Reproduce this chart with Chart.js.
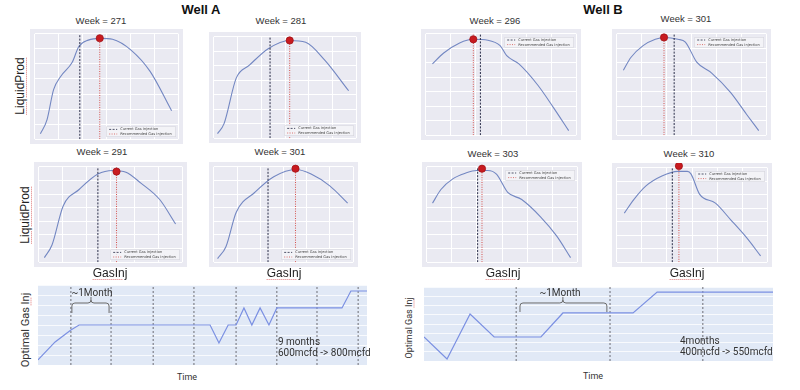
<!DOCTYPE html>
<html lang="en">
<head>
<meta charset="UTF-8">
<title>Gas injection optimisation</title>
<style>
  body { margin: 0; background: #fff; }
  #page { position: relative; width: 800px; height: 390px; overflow: hidden; font-family: "Liberation Sans", Arial, sans-serif; color: #222; }
  .plot { position: absolute; }
  .top { background: #eaeaf2; }
  .bottom { background: #e1e9f6; }
  .txt { position: absolute; white-space: nowrap; transform: translate(-50%, -50%); line-height: 1; }
  .left { transform: translate(0, -50%); }
  .rot { transform: translate(-50%, -50%) rotate(-90deg); }
  .squig { text-decoration: underline dotted #e07a7a; text-decoration-thickness: 1px; text-underline-offset: 2px; }
  .g { font-family: Roboto, "Open Sans", sans-serif; color: #333; }
</style>
</head>
<body>
<div id="page"></div>

<script src="https://cdn.jsdelivr.net/npm/chart.js"></script>
<script>
// week of each optimisation snapshot
const weeksA = [271, 281, 291, 301];
const weeksB = [296, 301, 303, 310];

// liquid production vs gas injection (normalised units)
const a1Gas  = [3.9, 8.5, 13.1, 18.3, 26.1, 30.7, 37.3, 45.8, 54.2, 67.3, 80.4, 95.4];
const a1Prod = [5.2, 18.3, 47, 60, 73, 88, 94, 95.7, 94.8, 84.3, 64.3, 27];
const a2Gas  = [2.6, 7.2, 15.8, 25, 38.2, 53.3, 64.5, 77.6, 94.7];
const a2Prod = [4.5, 14.4, 59.5, 72, 88.3, 96.4, 94.6, 77.5, 46.8];
const a3Gas  = [3.9, 9.2, 17, 28.1, 41.2, 51.6, 60.8, 71.2, 84.3, 95.4];
const a3Prod = [4.8, 18, 59, 76.2, 92.4, 96.2, 94.3, 82.9, 65.7, 40];
const a4Gas  = [2.7, 8.7, 16.1, 29.5, 43, 59, 69.8, 83.2, 96];
const a4Prod = [3.8, 16.2, 52.4, 73.3, 89.5, 97.1, 92.4, 80, 61.9];
const b1Gas  = [4.4, 11.9, 22.5, 31.3, 41.3, 49.4, 53.8, 61.9, 74.4, 85, 95];
const b1Prod = [70.3, 81.1, 91, 94.6, 93.7, 88.3, 78.4, 70.3, 49.5, 27, 4.5];
const b2Gas  = [4.4, 9.4, 17.6, 25.8, 32.1, 40.9, 45.9, 53.5, 63.5, 76.1, 86.8, 95];
const b2Prod = [64, 76.6, 88.3, 94.6, 96.4, 94.6, 91.9, 72.1, 61.3, 42.3, 20.7, 4.5];
const b3Gas  = [3.8, 9.4, 17.5, 25.6, 33.1, 40.6, 46.3, 53.8, 63.1, 75.6, 86.3, 95.6];
const b3Prod = [61.9, 76.2, 87.6, 93.3, 96.2, 96.2, 92.4, 73.3, 65.7, 47.6, 27.6, 4.8];
const b4Gas  = [5, 11.3, 19.4, 30, 40.6, 46.9, 49.4, 55, 65.6, 75.6, 86.3, 95.6];
const b4Prod = [52, 66.3, 80.8, 91.3, 96.2, 96.2, 93.3, 72.1, 62.5, 45.2, 26, 6.7];

// order: A1 A2 A3 A4 B1 B2 B3 B4
const currentInj     = [31.4, 39.5, 41.2, 38.9, 36.3, 38.4, 33.8, 36.9];
const recommendedInj = [45.3, 53.3, 54.2, 58.6, 31.6, 31.6, 36.7, 41.3];
const bestProd       = [95.8, 96.4, 95, 98, 94.6, 96.4, 98, 102];

// optimal gas injection through time
const timeA = [0, 5.2, 10, 12.5, 52.3, 55, 57.8, 60.2, 62.6, 65, 67.5, 70.2, 72.6, 92.4, 95.1, 100];
const injA  = [6.3, 28.8, 43.8, 50, 50, 27.5, 50, 50, 71.3, 50, 71.3, 50, 71.3, 71.3, 92.5, 92.5];
const monthsA = [10, 22.2, 35, 47.4, 60.2, 72.6, 84.8, 97.3];
const timeB = [0, 6.6, 13.2, 20.1, 33.5, 39.8, 59.9, 66.8, 100];
const injB  = [32.4, 2.7, 63.5, 32.4, 32.4, 64.9, 64.9, 93.2, 93.2];
const monthsB = [26.4, 53.3, 79.9];

const page = document.getElementById('page');
const zip = (xs, ys) => xs.map((x, i) => ({x: x, y: ys[i]}));
const vline = x => [{x: x, y: 0}, {x: x, y: 100}];

function box(cls, l, t, w, h) {
  const d = document.createElement('div');
  d.className = 'plot ' + cls;
  d.style.cssText = `left:${l}px;top:${t}px;width:${w}px;height:${h}px`;
  const c = document.createElement('canvas');
  d.appendChild(c);
  page.appendChild(d);
  return c;
}
function label(html, x, y, cls, css) {
  const d = document.createElement('div');
  d.className = 'txt ' + (cls || '');
  d.innerHTML = html;
  d.style.cssText = `left:${x}px;top:${y}px;` + (css || '');
  page.appendChild(d);
}

// tiny matplotlib-style legend inside the plot
const miniLegend = {
  id: 'miniLegend',
  afterDatasetsDraw(chart, args, o) {
    if (!o.where) return;
    const {ctx, chartArea: a} = chart;
    const items = chart.data.datasets.filter(d => d.inLegend).reverse();
    const w = 70, h = 11;
    const x = a.right - w - 2;
    const y = o.where === 'top' ? a.top + 3 : a.bottom - h - 2;
    ctx.save();
    ctx.fillStyle = 'rgba(244,244,248,0.85)';
    ctx.strokeStyle = '#d4d4dc';
    ctx.lineWidth = 0.6;
    ctx.fillRect(x, y, w, h);
    ctx.strokeRect(x + 0.5, y + 0.5, w - 1, h - 1);
    ctx.font = '3.6px "DejaVu Sans", sans-serif';
    ctx.textBaseline = 'middle';
    items.forEach((d, i) => {
      const cy = y + 3.2 + i * 4.6;
      ctx.strokeStyle = d.borderColor;
      ctx.lineWidth = 0.8;
      ctx.setLineDash(d.borderDash);
      ctx.beginPath();
      ctx.moveTo(x + 3, cy);
      ctx.lineTo(x + 11, cy);
      ctx.stroke();
      ctx.setLineDash([]);
      ctx.fillStyle = '#444';
      ctx.fillText(d.label, x + 14, cy);
    });
    ctx.restore();
  }
};

// curly brace over the one-month gap
const brace = {
  id: 'brace',
  afterDatasetsDraw(chart, args, o) {
    if (o.from === undefined) return;
    const {ctx, scales: {x, y}} = chart;
    const x0 = x.getPixelForValue(o.from), x1 = x.getPixelForValue(o.to), xm = x.getPixelForValue(o.mid);
    const yb = y.getPixelForValue(o.bar), ye = y.getPixelForValue(o.tip), yp = y.getPixelForValue(o.peak);
    const r = 3;
    ctx.save();
    ctx.strokeStyle = '#6a6a6a';
    ctx.lineWidth = 1;
    ctx.beginPath();
    ctx.moveTo(x0, ye);
    ctx.lineTo(x0, yb + r);
    ctx.quadraticCurveTo(x0, yb, x0 + r, yb);
    ctx.lineTo(xm - r, yb);
    ctx.quadraticCurveTo(xm, yb, xm, yb - r);
    ctx.lineTo(xm, yp);
    ctx.moveTo(xm, yb - r);
    ctx.quadraticCurveTo(xm, yb, xm + r, yb);
    ctx.lineTo(x1 - r, yb);
    ctx.quadraticCurveTo(x1, yb, x1, yb + r);
    ctx.lineTo(x1, ye);
    ctx.stroke();
    ctx.restore();
  }
};

function hiddenAxis(step, gridOpts) {
  return {
    type: 'linear', min: 0, max: 100,
    ticks: {display: false, stepSize: step},
    grid: Object.assign({color: '#ffffff', lineWidth: 1, drawTicks: false}, gridOpts || {}),
    border: {display: false}
  };
}

function curveChart(canvas, gas, prod, i, where) {
  return new Chart(canvas, {
    type: 'line',
    data: {
      datasets: [
        { label: 'best', data: [{x: recommendedInj[i], y: bestProd[i]}], showLine: false,
          pointRadius: 3.6, pointBackgroundColor: '#c81a1f', pointBorderColor: '#a11217', pointBorderWidth: 0.8, clip: false },
        { label: 'Recommended Gas Injection', inLegend: true, data: vline(recommendedInj[i]),
          borderColor: '#d4504c', borderDash: [1, 1.4], borderWidth: 1, pointRadius: 0 },
        { label: 'Current Gas Injection', inLegend: true, data: vline(currentInj[i]),
          borderColor: '#2a2d48', borderDash: [2, 1.4], borderWidth: 1, pointRadius: 0 },
        { label: 'LiquidProd', data: zip(gas, prod), borderColor: '#7387c2', borderWidth: 1.1,
          pointRadius: 0, cubicInterpolationMode: 'monotone' }
      ]
    },
    options: {
      responsive: true, maintainAspectRatio: false, animation: false,
      layout: {padding: 0},
      events: [],
      scales: { x: hiddenAxis(100 / 6), y: hiddenAxis(100 / 7) },
      plugins: { legend: {display: false}, tooltip: {enabled: false}, miniLegend: {where: where} }
    },
    plugins: [miniLegend]
  });
}

function timeChart(canvas, t, inj, months, br) {
  const sets = [{ label: 'Optimal Gas Inj', data: zip(t, inj), borderColor: '#7b90e2', borderWidth: 1.2, pointRadius: 0, tension: 0 }];
  months.forEach(m => sets.push({ label: 'month', data: vline(m), borderColor: '#5f5f66', borderDash: [2, 2], borderWidth: 0.9, pointRadius: 0 }));
  return new Chart(canvas, {
    type: 'line',
    data: { datasets: sets },
    options: {
      responsive: true, maintainAspectRatio: false, animation: false,
      layout: {padding: 0},
      events: [],
      scales: {
        x: hiddenAxis(10, {display: false}),
        y: hiddenAxis(12.5, {color: 'rgba(255,255,255,0.75)'})
      },
      plugins: { legend: {display: false}, tooltip: {enabled: false}, brace: br }
    },
    plugins: [brace]
  });
}

// plots
curveChart(box('top', 30, 29, 153, 115), a1Gas, a1Prod, 0, 'bottom');
curveChart(box('top', 209, 32, 152, 111), a2Gas, a2Prod, 1, 'bottom');
curveChart(box('top', 34, 162, 153, 105), a3Gas, a3Prod, 2, 'bottom');
curveChart(box('top', 209, 162, 149, 105), a4Gas, a4Prod, 3, 'bottom');
curveChart(box('top', 421, 29, 160, 111), b1Gas, b1Prod, 4, 'top');
curveChart(box('top', 612, 29, 159, 111), b2Gas, b2Prod, 5, 'top');
curveChart(box('top', 422, 162, 160, 105), b3Gas, b3Prod, 6, 'top');
curveChart(box('top', 612, 163, 160, 104), b4Gas, b4Prod, 7, 'top');

timeChart(box('bottom', 38, 285, 329, 80), timeA, injA, monthsA,
  {from: 10.3, to: 21.6, mid: 16.1, bar: 77.5, tip: 65, peak: 85});
timeChart(box('bottom', 424, 287, 349, 74), timeB, injB, monthsB,
  {from: 27.5, to: 52.4, mid: 39.8, bar: 78.4, tip: 66.2, peak: 86.5});

// text
label('Well A', 201, 9, '', 'font-weight:bold;font-size:13px;color:#111');
label('Well B', 603, 9, '', 'font-weight:bold;font-size:13px;color:#111');
const titleCss = 'font-size:9.5px;color:#333';
label('Week = ' + weeksA[0], 101, 21, '', titleCss);
label('Week = ' + weeksA[1], 281, 21, '', titleCss);
label('Week = ' + weeksA[2], 102, 152, '', titleCss);
label('Week = ' + weeksA[3], 280, 152, '', titleCss);
label('Week = ' + weeksB[0], 495, 21, '', titleCss);
label('Week = ' + weeksB[1], 686, 19, '', titleCss);
label('Week = ' + weeksB[2], 493, 154, '', titleCss);
label('Week = ' + weeksB[3], 689, 154, '', titleCss);

const bigCss = 'font-size:12px;color:#222';
label('<span class="squig">LiquidProd</span>', 20, 86, 'rot', bigCss);
label('<span class="squig">LiquidProd</span>', 25, 215, 'rot', bigCss);
label('<span class="squig">GasInj</span>', 110, 273, '', bigCss);
label('<span class="squig">GasInj</span>', 284, 273, '', bigCss);
label('<span class="squig">GasInj</span>', 503, 273, '', bigCss);
label('<span class="squig">GasInj</span>', 687, 273, '', bigCss);

label('Optimal Gas <span class="squig">Inj</span>', 25, 330, 'rot g', 'font-size:11px');
label('Optimal Gas <span class="squig">Inj</span>', 409, 328, 'rot g', 'font-size:9px');
label('Time', 187, 377, 'g', 'font-size:9px');
label('Time', 593, 376, 'g', 'font-size:9px');
label('~1Month', 92, 293, 'g', 'font-size:10px');
label('~1Month', 560, 293, 'g', 'font-size:10px');
label('9 months', 278, 342, 'left g', 'font-size:10px');
label('600mcfd -&gt; 800mcfd', 278, 353, 'left g', 'font-size:10px');
label('4months', 680, 341, 'left g', 'font-size:10px');
label('400mcfd -&gt; 550mcfd', 680, 352, 'left g', 'font-size:10px');
</script>
</body>
</html>
